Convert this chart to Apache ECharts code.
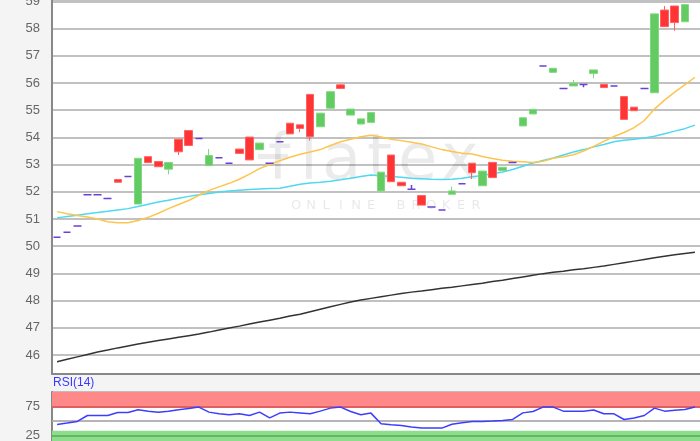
<!DOCTYPE html>
<html>
<head>
<meta charset="utf-8">
<script src="https://cdn.jsdelivr.net/npm/echarts@6/dist/echarts.min.js"></script>
<style>
    html, body { margin: 0; padding: 0; background: #f4f4f4; }
    #chart { width: 700px; height: 441px; }
</style>
</head>
<body>
<div id="chart"></div>
<script>
// candles: open / close / low / high (63 days, last slot empty)
var opens  = [50.33,50.51,50.74,51.89,51.89,51.75,52.45,52.56,51.55,53.29,53.11,52.83,53.93,54.25,53.96,52.96,53.25,53.05,53.57,54.01,53.55,53.05,53.84,54.52,54.46,55.58,54.39,55.07,55.93,54.82,54.49,54.55,52.03,53.35,52.35,52.09,51.86,51.44,51.33,51.91,52.29,53.05,52.22,53.08,52.78,53.08,54.42,54.86,56.62,56.39,55.80,55.89,55.94,56.35,55.95,55.89,55.50,55.11,55.80,55.64,58.68,58.83,58.25];
var closes = [50.33,50.51,50.74,51.89,51.89,51.75,52.35,52.56,53.23,53.07,52.92,53.08,53.47,53.70,53.96,53.33,53.25,53.05,53.41,53.17,53.79,53.05,53.84,54.13,54.33,54.03,54.89,55.68,55.80,55.04,54.68,54.91,52.72,52.37,52.22,52.09,51.51,51.44,51.33,52.03,52.29,52.70,52.76,52.52,52.90,53.08,54.72,55.03,56.62,56.54,55.80,55.99,55.94,56.48,55.83,55.89,54.66,54.98,55.80,58.54,58.07,58.22,58.88];
var lows   = [50.33,50.51,50.74,51.89,51.89,51.75,52.35,52.56,51.55,53.07,52.92,52.64,53.35,53.70,53.96,52.96,53.25,53.05,53.41,53.17,53.55,53.05,53.84,54.13,54.19,53.88,54.39,55.07,55.80,54.82,54.49,54.55,52.03,52.37,52.22,52.09,51.51,51.44,51.33,51.91,52.29,52.47,52.22,52.52,52.78,53.08,54.42,54.86,56.62,56.39,55.80,55.89,55.84,56.17,55.83,55.89,54.66,54.98,55.80,55.64,58.07,57.92,58.25];
var highs  = [50.33,50.51,50.74,51.89,51.89,51.75,52.45,52.56,53.23,53.29,53.11,53.08,53.93,54.25,53.96,53.57,53.25,53.05,53.57,54.01,53.79,53.05,53.84,54.52,54.46,55.58,54.89,55.68,55.96,55.04,54.68,54.91,52.72,53.35,52.35,52.25,51.86,51.44,51.33,52.19,52.29,53.05,52.76,53.08,52.90,53.08,54.72,55.03,56.62,56.54,55.80,56.11,55.94,56.48,55.95,55.89,55.50,55.11,55.80,58.54,58.83,58.83,58.88];

// moving averages (64 slots)
var maShort = [51.27,51.19,51.13,51.07,51.00,50.90,50.86,50.86,50.94,51.06,51.21,51.38,51.53,51.68,51.87,52.05,52.18,52.31,52.46,52.65,52.85,53.00,53.14,53.27,53.38,53.46,53.55,53.70,53.84,53.93,54.02,54.08,54.01,53.93,53.88,53.82,53.76,53.65,53.55,53.48,53.42,53.39,53.30,53.22,53.16,53.12,53.10,53.08,53.12,53.23,53.29,53.36,53.50,53.67,53.85,54.03,54.18,54.36,54.62,55.04,55.37,55.66,55.93,56.21];
var maMid   = [51.04,51.09,51.14,51.19,51.24,51.28,51.33,51.38,51.46,51.54,51.62,51.69,51.76,51.83,51.89,51.94,51.99,52.03,52.06,52.08,52.10,52.12,52.13,52.20,52.28,52.32,52.35,52.39,52.44,52.50,52.56,52.62,52.59,52.56,52.53,52.50,52.48,52.46,52.45,52.46,52.50,52.55,52.60,52.66,52.73,52.82,52.94,53.06,53.15,53.24,53.35,53.46,53.55,53.65,53.74,53.84,53.89,53.93,53.98,54.04,54.13,54.23,54.32,54.45];
var maLong  = [45.75,45.84,45.93,46.02,46.11,46.18,46.26,46.33,46.40,46.47,46.53,46.59,46.65,46.71,46.77,46.84,46.92,46.99,47.06,47.14,47.21,47.28,47.35,47.43,47.50,47.59,47.68,47.77,47.86,47.95,48.02,48.08,48.14,48.20,48.26,48.31,48.35,48.40,48.45,48.49,48.54,48.59,48.64,48.70,48.75,48.81,48.87,48.93,48.99,49.04,49.08,49.13,49.17,49.22,49.27,49.33,49.39,49.45,49.51,49.57,49.63,49.68,49.73,49.78];

// RSI(14)
var rsi = [44,46.5,49.2,59.5,59.5,59.5,64.7,64.7,69.3,67,65,67,69.5,71.5,74,65.3,62.5,60.7,62.4,59.5,65.3,55.5,63.6,65.3,64,62.4,67,72.2,74,66.4,60.7,63.6,45.2,43.5,42.2,39.5,37.8,37.8,37.8,44.5,47,49.1,49.3,49.8,51,52.6,64,66.4,74,74,67,67,67,69,62.4,62.4,52.6,55,59.5,72.2,67,68.5,70,74];

var yTicksMain = [46,47,48,49,50,51,52,53,54,55,56,57,58,59];
var yTicksRsi = [25,75];

var days = maShort.map(function (v, i) { return String(i + 1); });

var dojiStyle = {
    color: '#6a40d8', color0: '#6a40d8',
    borderColor: '#6a40d8', borderColor0: '#6a40d8', borderColorDoji: '#6a40d8',
    borderWidth: 1.5
};
var candles = opens.map(function (o, i) {
    var item = { value: [o, closes[i], lows[i], highs[i]] };
    if (o === closes[i]) item.itemStyle = dojiStyle;
    return item;
});

// watermark, letter by letter so the spacing matches the logo
var logo = [['f', 268], ['l', 300], ['a', 322], ['t', 367], ['e', 398], ['x', 441]];
var brand = 'ONLINE BROKER'.split('');
var graphics = [{
    type: 'rect', left: 258, top: 154, z: 1, silent: true,
    shape: { width: 30, height: 5 }, style: { fill: 'rgba(0,0,0,0.08)' }
}];
logo.forEach(function (l) {
    graphics.push({
        type: 'text', left: l[1], top: 130, z: 1, silent: true,
        style: { text: l[0], font: '64px "DejaVu Sans"', fill: 'rgba(0,0,0,0.08)' }
    });
});
brand.forEach(function (ch, k) {
    graphics.push({
        type: 'text', x: 296 + k * 15, y: 206, z: 1, silent: true,
        style: { text: ch, font: '13px "DejaVu Sans"', fill: 'rgba(0,0,0,0.09)', align: 'center', verticalAlign: 'middle' }
    });
});
graphics.push({
    type: 'text', left: 53, top: 377, silent: true,
    style: { text: 'RSI(14)', font: '12px "Liberation Sans"', fill: '#3a3aff' }
});

var chart = echarts.init(document.getElementById('chart'));
var gridLine = { color: '#acacac', width: 1.5 };
var option = {
    backgroundColor: '#f4f4f4',
    animation: false,
    graphic: graphics,
    grid: [
        { left: 52, right: 0, top: 0, height: 374, show: true, backgroundColor: '#fff', borderWidth: 0, outerBoundsMode: 'none' },
        { left: 52, right: 0, top: 392, height: 58, show: true, backgroundColor: '#fff', borderWidth: 0, outerBoundsMode: 'none' }
    ],
    xAxis: [
        {
            type: 'category', gridIndex: 0, data: days, boundaryGap: true,
            axisLine: { lineStyle: { color: '#888', width: 2 } },
            axisTick: { show: false }, axisLabel: { show: false }, splitLine: { show: false }
        },
        {
            type: 'category', gridIndex: 1, data: days, boundaryGap: true,
            axisLine: { show: false }, axisTick: { show: false }, axisLabel: { show: false }, splitLine: { show: false }
        }
    ],
    yAxis: [
        {
            type: 'value', gridIndex: 0, min: 45.3, max: 59.05,
            splitNumber: 14, minInterval: 1, maxInterval: 1,
            axisLine: { show: true, lineStyle: { color: '#888', width: 2 } },
            axisTick: { show: false },
            axisLabel: {
                color: '#666', fontSize: 13, fontFamily: 'Liberation Sans', margin: 12,
                formatter: function (v) { return yTicksMain.indexOf(v) >= 0 ? v : ''; }
            },
            splitLine: { lineStyle: gridLine }
        },
        {
            type: 'value', gridIndex: 1, min: 0, max: 100, interval: 25,
            axisLine: { show: true, lineStyle: { color: '#888', width: 2 } },
            axisTick: { show: false },
            axisLabel: {
                color: '#666', fontSize: 13, fontFamily: 'Liberation Sans', margin: 12,
                formatter: function (v) { return yTicksRsi.indexOf(v) >= 0 ? v : ''; }
            },
            splitLine: { lineStyle: gridLine }
        }
    ],
    series: [
        {
            name: 'MA long', type: 'line', xAxisIndex: 0, yAxisIndex: 0, data: maLong,
            showSymbol: false, z: 3,
            lineStyle: { color: '#333', width: 1.5 }
        },
        {
            name: 'MA mid', type: 'line', xAxisIndex: 0, yAxisIndex: 0, data: maMid,
            showSymbol: false, z: 3,
            lineStyle: { color: '#4fd9f0', width: 1.5 }
        },
        {
            name: 'MA short', type: 'line', xAxisIndex: 0, yAxisIndex: 0, data: maShort,
            showSymbol: false, z: 3,
            lineStyle: { color: '#fcc54e', width: 1.5 }
        },
        {
            name: 'Kurs', type: 'candlestick', xAxisIndex: 0, yAxisIndex: 0, data: candles,
            barWidth: 8, z: 4,
            itemStyle: {
                color: '#62cc62', color0: '#ff3535',
                borderColor: '#82d882', borderColor0: '#ff6262',
                borderColorDoji: '#6a40d8', borderWidth: 1
            }
        },
        {
            name: 'RSI', type: 'line', xAxisIndex: 1, yAxisIndex: 1, data: rsi,
            showSymbol: false, z: 5,
            lineStyle: { color: '#3d3dff', width: 1.5 },
            markArea: {
                silent: true,
                data: [
                    [{ yAxis: 72.5, itemStyle: { color: '#ff8888' } }, { yAxis: 100 }],
                    [{ yAxis: 0, itemStyle: { color: '#8fdc8f' } }, { yAxis: 33 }]
                ]
            },
            markLine: {
                silent: true, symbol: 'none', label: { show: false },
                data: [
                    { yAxis: 75, lineStyle: { color: '#e06060', width: 2, type: 'solid' } },
                    { yAxis: 25, lineStyle: { color: '#5cbc5c', width: 2, type: 'solid' } },
                    { yAxis: 50, lineStyle: { color: '#b0b0b0', width: 1.5, type: 'solid' } }
                ]
            }
        }
    ]
};
chart.setOption(option);
</script>
</body>
</html>
